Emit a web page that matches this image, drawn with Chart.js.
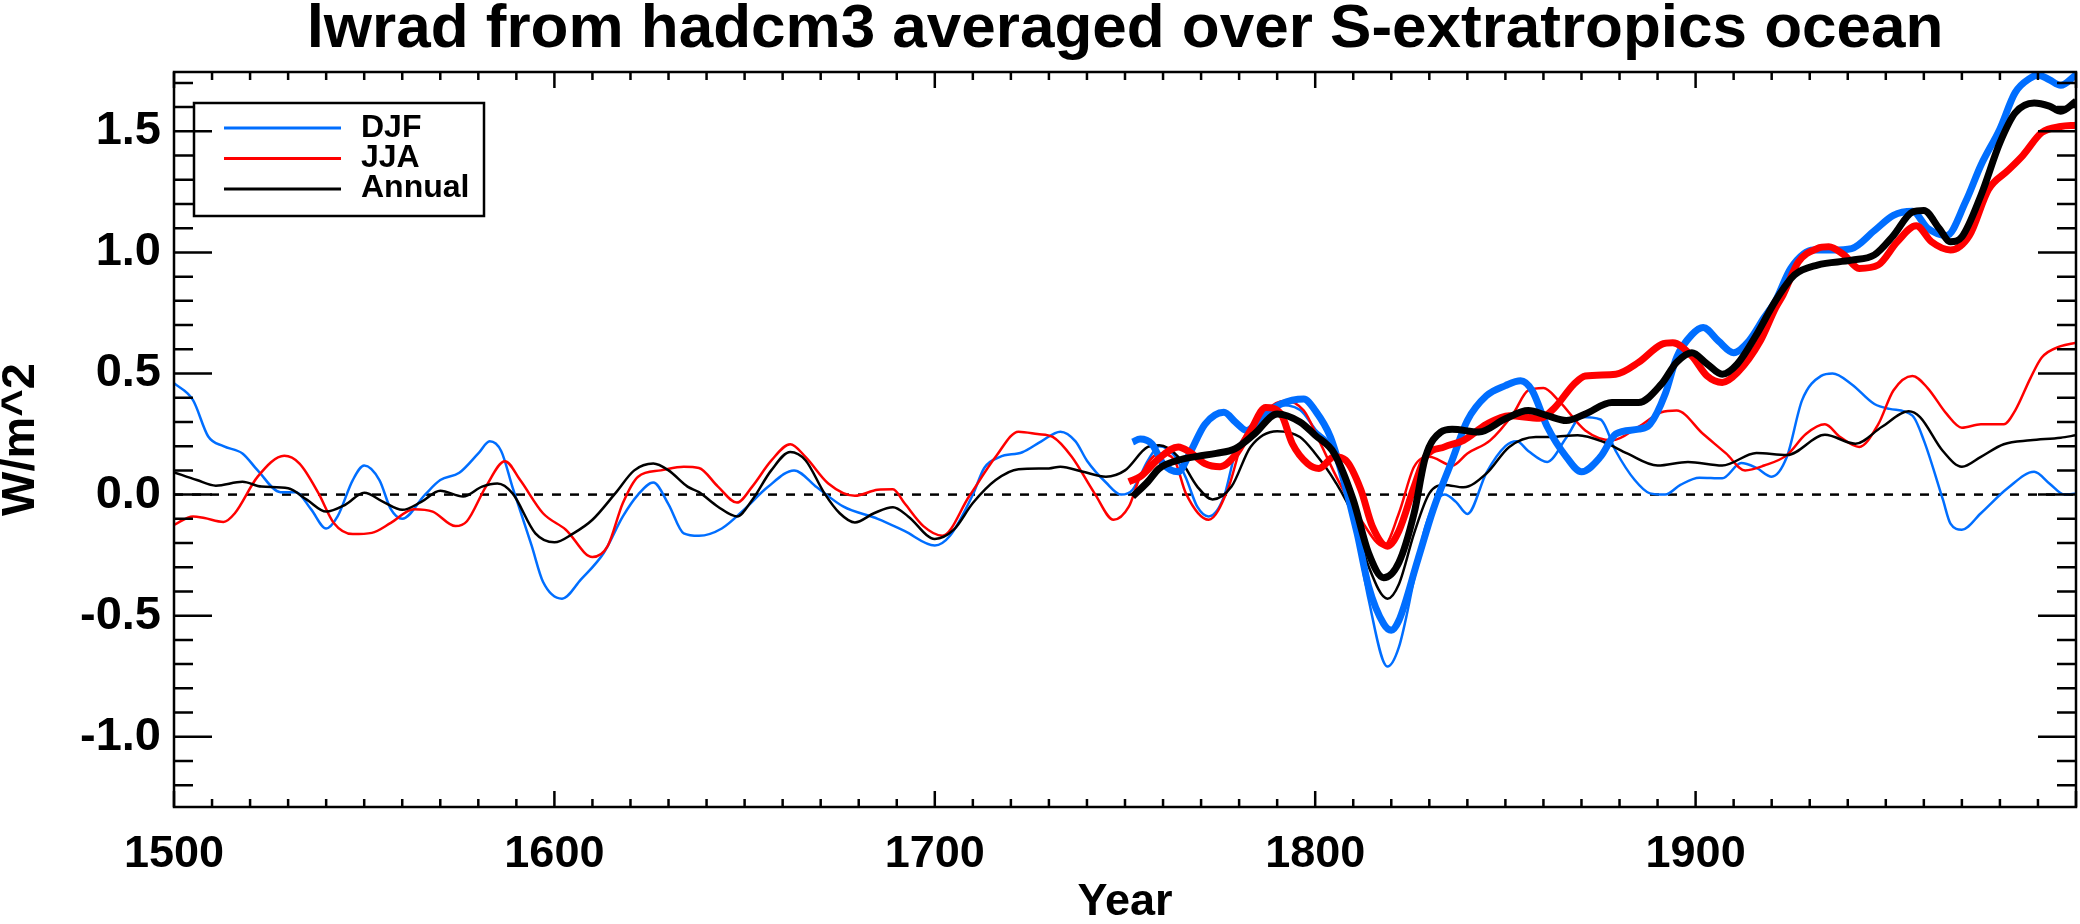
<!DOCTYPE html>
<html>
<head>
<meta charset="utf-8">
<script src="https://cdn.jsdelivr.net/npm/chart.js@4.4.1/dist/chart.umd.min.js"></script>
<style>
  body { margin: 0; background: #fff; }
  canvas { display: block; }
</style>
</head>
<body>
<canvas id="lwradChart" width="2080" height="924"></canvas>
<script>
const chartTitle = "lwrad from hadcm3 averaged over S-extratropics ocean";
const legendLabels = ["DJF", "JJA", "Annual"];
const xTicks = [1500, 1600, 1700, 1800, 1900];
const yTicks = [-1.0, -0.5, 0.0, 0.5, 1.0, 1.5];

// thin lines, 1500-2000
const djfYears = [1500,1505,1509,1513,1518,1522,1528,1532,1536,1540,1543,1547,1550,1554,1557,1560,1566,1570,1575,1580,1583,1586,1589,1594,1597,1602,1607,1613,1618,1622,1626,1630,1634,1638,1644,1650,1656,1663,1669,1676,1685,1692,1700,1704,1710,1713,1717,1723,1728,1733,1737,1740,1745,1749,1752,1756,1759,1763,1766,1769,1772,1776,1779,1784,1790,1796,1800,1805,1810,1814,1819,1822,1826,1829,1834,1837,1840,1845,1850,1853,1856,1861,1866,1870,1875,1879,1884,1888,1892,1896,1901,1907,1912,1916,1920,1924,1928,1933,1936,1941,1947,1951,1957,1960,1965,1967,1970,1975,1982,1989,1993,1997,2000];
const djfThin = [0.46,0.39,0.24,0.20,0.17,0.10,0.01,0.01,-0.06,-0.14,-0.09,0.06,0.12,0.06,-0.06,-0.10,0.00,0.06,0.09,0.17,0.22,0.18,0.03,-0.21,-0.36,-0.43,-0.35,-0.24,-0.09,0.00,0.05,-0.04,-0.16,-0.17,-0.14,-0.06,0.03,0.10,0.03,-0.05,-0.10,-0.15,-0.21,-0.17,0.00,0.11,0.155,0.175,0.22,0.26,0.22,0.14,0.05,0.00,0.02,0.14,0.20,0.16,0.07,-0.05,-0.09,-0.01,0.17,0.28,0.37,0.35,0.27,0.18,-0.09,-0.43,-0.71,-0.63,-0.35,-0.13,0.00,-0.03,-0.08,0.09,0.20,0.22,0.18,0.135,0.235,0.32,0.31,0.18,0.06,0.005,0.00,0.04,0.07,0.067,0.13,0.11,0.074,0.156,0.39,0.49,0.50,0.456,0.374,0.354,0.326,0.224,-0.02,-0.12,-0.145,-0.077,0.026,0.094,0.046,0.00,0.005];

const jjaYears = [1500,1505,1508,1513,1516,1522,1529,1533,1538,1542,1547,1552,1557,1563,1568,1574,1577,1582,1587,1591,1597,1603,1610,1614,1618,1622,1628,1634,1638,1643,1648,1652,1657,1662,1666,1672,1679,1685,1689,1692,1697,1702,1709,1716,1722,1727,1731,1736,1742,1747,1751,1754,1759,1763,1766,1772,1777,1781,1787,1792,1797,1801,1806,1812,1818,1822,1826,1830,1836,1840,1846,1852,1856,1860,1864,1871,1878,1885,1891,1895,1902,1908,1913,1918,1924,1929,1934,1938,1943,1948,1952,1957,1961,1966,1970,1975,1981,1984,1988,1991,1996,2000];
const jjaThin = [-0.125,-0.09,-0.097,-0.113,-0.077,0.074,0.16,0.128,0.005,-0.117,-0.163,-0.158,-0.117,-0.06,-0.07,-0.13,-0.11,0.033,0.138,0.06,-0.077,-0.145,-0.258,-0.213,-0.035,0.074,0.10,0.115,0.11,0.033,-0.033,0.033,0.14,0.208,0.156,0.046,-0.005,0.02,0.022,-0.035,-0.13,-0.17,-0.008,0.156,0.26,0.25,0.238,0.156,0.005,-0.104,-0.05,0.074,0.17,0.142,0.005,-0.104,0.02,0.224,0.347,0.388,0.347,0.224,0.06,-0.104,-0.213,-0.077,0.115,0.156,0.12,0.17,0.224,0.333,0.43,0.44,0.388,0.265,0.224,0.28,0.34,0.347,0.25,0.17,0.10,0.12,0.163,0.25,0.29,0.238,0.197,0.29,0.43,0.49,0.44,0.333,0.276,0.29,0.29,0.347,0.48,0.566,0.613,0.627];

const annYears = [1500,1506,1511,1518,1523,1530,1535,1540,1545,1550,1555,1560,1565,1570,1576,1581,1585,1589,1595,1600,1605,1610,1616,1621,1626,1630,1635,1638,1643,1648,1652,1657,1662,1666,1671,1675,1679,1684,1689,1693,1700,1705,1710,1716,1722,1730,1733,1739,1745,1750,1756,1759,1764,1769,1773,1778,1783,1790,1796,1800,1805,1810,1814,1819,1822,1826,1830,1834,1839,1845,1851,1858,1862,1869,1876,1882,1890,1898,1907,1916,1924,1934,1942,1949,1956,1959,1965,1970,1975,1981,1988,1996,2000];
const annThin = [0.092,0.06,0.037,0.053,0.033,0.026,-0.022,-0.07,-0.042,0.008,-0.03,-0.063,-0.03,0.016,-0.008,0.033,0.046,0.005,-0.16,-0.197,-0.16,-0.104,0.005,0.10,0.128,0.10,0.033,0.01,-0.05,-0.09,-0.022,0.10,0.176,0.142,0.005,-0.077,-0.115,-0.077,-0.052,-0.09,-0.183,-0.145,-0.035,0.06,0.105,0.108,0.115,0.094,0.074,0.10,0.197,0.204,0.156,0.033,-0.02,0.033,0.197,0.262,0.238,0.17,0.06,-0.09,-0.295,-0.43,-0.37,-0.16,0.005,0.04,0.03,0.087,0.197,0.238,0.238,0.245,0.216,0.17,0.12,0.135,0.12,0.172,0.163,0.247,0.21,0.28,0.344,0.32,0.18,0.115,0.156,0.208,0.224,0.235,0.245];

// thick lines, 1750-2000
const djfThickYears = [1752,1754,1757,1760,1764,1767,1771,1776,1779,1782,1786,1791,1797,1800,1804,1807,1811,1814,1818,1820,1822,1827,1831,1836,1840,1845,1850,1854,1857,1861,1866,1870,1875,1879,1885,1888,1892,1895,1899,1902,1906,1910,1914,1918,1921,1925,1931,1936,1941,1947,1952,1957,1961,1966,1971,1975,1980,1984,1988,1990,1993,1996,2000];
const djfThick = [0.217,0.23,0.21,0.128,0.094,0.17,0.29,0.34,0.30,0.265,0.32,0.374,0.395,0.347,0.238,0.087,-0.158,-0.377,-0.534,-0.56,-0.52,-0.268,-0.063,0.142,0.306,0.408,0.45,0.47,0.43,0.28,0.156,0.094,0.156,0.25,0.27,0.29,0.415,0.566,0.66,0.69,0.634,0.586,0.634,0.73,0.80,0.934,1.01,1.01,1.016,1.09,1.153,1.17,1.10,1.07,1.21,1.36,1.51,1.66,1.72,1.733,1.713,1.69,1.733];

const jjaThickYears = [1751,1754,1759,1764,1767,1771,1775,1779,1783,1787,1791,1794,1798,1801,1805,1808,1812,1815,1819,1822,1826,1829,1834,1839,1845,1851,1859,1863,1868,1871,1879,1885,1891,1894,1899,1903,1907,1911,1917,1921,1923,1927,1932,1935,1939,1943,1948,1953,1958,1962,1967,1972,1977,1982,1986,1991,1996,2000];
const jjaThick = [0.053,0.074,0.15,0.197,0.176,0.128,0.115,0.163,0.265,0.36,0.333,0.21,0.128,0.108,0.156,0.142,0.02,-0.13,-0.213,-0.15,0.033,0.156,0.197,0.224,0.29,0.326,0.315,0.36,0.456,0.49,0.497,0.546,0.62,0.627,0.572,0.49,0.463,0.504,0.634,0.77,0.825,0.96,1.016,1.023,0.99,0.934,0.948,1.044,1.11,1.044,1.01,1.07,1.26,1.337,1.40,1.495,1.52,1.525];

const annThickYears = [1752,1756,1759,1764,1769,1774,1779,1784,1790,1796,1800,1805,1810,1814,1818,1822,1826,1829,1833,1836,1843,1850,1856,1861,1866,1871,1878,1885,1891,1895,1899,1903,1907,1911,1916,1921,1926,1932,1941,1947,1952,1957,1960,1964,1967,1970,1975,1980,1984,1989,1993,1996,2000];
const annThick = [-0.008,0.053,0.108,0.142,0.158,0.17,0.19,0.25,0.333,0.30,0.245,0.17,-0.022,-0.24,-0.343,-0.28,-0.077,0.156,0.258,0.27,0.258,0.313,0.347,0.326,0.306,0.333,0.38,0.38,0.456,0.546,0.586,0.54,0.497,0.54,0.66,0.80,0.907,0.948,0.968,0.99,1.07,1.167,1.173,1.10,1.044,1.064,1.235,1.453,1.576,1.617,1.604,1.583,1.624];

const zeroYears = [1500, 2000];
const zeroValues = [0, 0];

const BLUE = "rgb(0,110,255)";
const RED = "rgb(255,0,0)";
const BLACK = "#000";
const FONT = "'Liberation Sans', Arial, Helvetica, sans-serif";

const pts = (xs, ys) => xs.map((x, i) => ({ x: x, y: ys[i] }));

const lineSet = (label, xs, ys, color, width, order) => ({
  label: label,
  data: pts(xs, ys),
  borderColor: color,
  borderWidth: width,
  pointRadius: 0,
  fill: false,
  cubicInterpolationMode: "monotone",
  clip: 0,
  order: order,
});

// frame with inward ticks on all four sides (IDL style)
const framePlugin = {
  id: "frame",
  afterDraw(chart) {
    const { ctx, chartArea: a, scales } = chart;
    const xs = scales.x, ys = scales.y;
    ctx.save();
    ctx.strokeStyle = BLACK;
    ctx.lineWidth = 2.5;
    ctx.strokeRect(a.left, a.top, a.right - a.left, a.bottom - a.top);
    ctx.beginPath();
    for (let yr = 1500; yr <= 2000; yr += 10) {
      const px = xs.getPixelForValue(yr);
      const len = yr % 100 === 0 ? 16 : 8;
      ctx.moveTo(px, a.bottom); ctx.lineTo(px, a.bottom - len);
      ctx.moveTo(px, a.top); ctx.lineTo(px, a.top + len);
    }
    for (let k = -12; k <= 17; k++) {
      const v = k / 10;
      const py = ys.getPixelForValue(v);
      const len = k % 5 === 0 ? 38 : 19;
      ctx.moveTo(a.left, py); ctx.lineTo(a.left + len, py);
      ctx.moveTo(a.right, py); ctx.lineTo(a.right - len, py);
    }
    ctx.stroke();

    // title
    ctx.fillStyle = BLACK;
    ctx.font = "bold 62px " + FONT;
    ctx.textAlign = "center";
    ctx.textBaseline = "alphabetic";
    ctx.fillText(chartTitle, (a.left + a.right) / 2, 47);

    // legend box
    const colors = [BLUE, RED, BLACK];
    ctx.lineWidth = 2.5;
    ctx.strokeRect(194, 103, 290, 113);
    ctx.font = "bold 32px " + FONT;
    ctx.textAlign = "left";
    legendLabels.forEach((lab, i) => {
      const yy = 128 + i * 30.5;
      ctx.strokeStyle = colors[i];
      ctx.lineWidth = 3;
      ctx.beginPath();
      ctx.moveTo(224, yy); ctx.lineTo(341, yy);
      ctx.stroke();
      ctx.fillText(lab, 361, 137 + i * 30);
    });
    ctx.restore();
  },
};

const ctx = document.getElementById("lwradChart").getContext("2d");
new Chart(ctx, {
  type: "line",
  data: {
    datasets: [
      Object.assign(lineSet("zero", zeroYears, zeroValues, BLACK, 2.5, 7), { borderDash: [9, 9], cubicInterpolationMode: "default" }),
      lineSet("DJF", djfYears, djfThin, BLUE, 2.5, 6),
      lineSet("JJA", jjaYears, jjaThin, RED, 2.5, 5),
      lineSet("Annual", annYears, annThin, BLACK, 2.5, 4),
      lineSet("DJF thick", djfThickYears, djfThick, BLUE, 7, 3),
      lineSet("JJA thick", jjaThickYears, jjaThick, RED, 7, 2),
      lineSet("Annual thick", annThickYears, annThick, BLACK, 7, 1),
    ],
  },
  options: {
    responsive: false,
    devicePixelRatio: 1,
    animation: false,
    layout: { padding: { top: 72, right: 4, left: 0, bottom: 0 } },
    plugins: {
      legend: { display: false },
      title: { display: false },
      tooltip: { enabled: false },
    },
    scales: {
      x: {
        type: "linear",
        min: 1500,
        max: 2000,
        afterBuildTicks: (s) => { s.ticks = xTicks.map((v) => ({ value: v })); },
        afterFit: (s) => { s.height = 117; },
        ticks: {
          color: BLACK,
          padding: 21,
          maxRotation: 0,
          font: { family: FONT, size: 45, weight: "bold" },
          callback: (v) => String(v),
        },
        grid: { display: false, drawTicks: false },
        border: { display: false },
        title: {
          display: true,
          text: "Year",
          color: BLACK,
          padding: 0,
          font: { family: FONT, size: 45, weight: "bold", lineHeight: 0.93 },
        },
      },
      y: {
        type: "linear",
        min: -1.29,
        max: 1.745,
        afterBuildTicks: (s) => { s.ticks = yTicks.map((v) => ({ value: v })); },
        afterFit: (s) => { s.width = 174; },
        ticks: {
          color: BLACK,
          padding: 13,
          font: { family: FONT, size: 47, weight: "bold" },
          callback: (v) => v.toFixed(1),
        },
        grid: { display: false, drawTicks: false },
        border: { display: false },
        title: {
          display: true,
          text: "W/m^2",
          color: BLACK,
          padding: 0,
          font: { family: FONT, size: 47, weight: "bold", lineHeight: 0.875 },
        },
      },
    },
  },
  plugins: [framePlugin],
});
</script>
</body>
</html>
